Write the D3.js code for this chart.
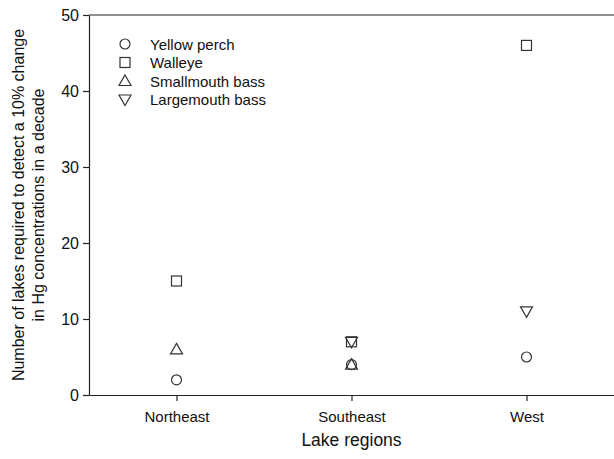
<!DOCTYPE html>
<html>
<head>
<meta charset="utf-8">
<script src="https://cdn.jsdelivr.net/npm/d3@7"></script>
<style>
  body { margin: 0; background: #fff; }
  text { font-family: "Liberation Sans", Arial, sans-serif; fill: #111; }
</style>
</head>
<body>
<svg id="chart" width="614" height="459"></svg>
<script>
const regions = ["Northeast", "Southeast", "West"];
const species = ["Yellow perch", "Walleye", "Smallmouth bass", "Largemouth bass"];
const yellowPerch = [2, 4, 5];
const walleye = [15, 7, 46];
const smallmouth = [6, 4, null];
const largemouth = [null, 7, 11];
const yTicks = [0, 10, 20, 30, 40, 50];

const svg = d3.select("#chart");
const margin = { top: 15, right: 0, bottom: 64, left: 89 };
const width = 614 - margin.left - margin.right;
const height = 459 - margin.top - margin.bottom;
const g = svg.append("g").attr("transform", "translate(" + margin.left + "," + margin.top + ")");

const x = d3.scaleLinear().domain([0.5, 3.5]).range([0, width]);
const y = d3.scaleLinear().domain([0, 50]).range([height, 0]);

// frame top line
g.append("line").attr("x1", 0).attr("x2", width).attr("y1", 0).attr("y2", 0)
  .attr("stroke", "#222").attr("stroke-width", 1.2);

const xAxis = g.append("g").attr("transform", "translate(0," + height + ")")
  .call(d3.axisBottom(x).tickValues([1, 2, 3]).tickFormat((d, i) => regions[i]).tickSize(6).tickSizeOuter(0));
xAxis.selectAll("text").style("font-size", "15px").attr("dy", "1.2em");

const yAxis = g.append("g")
  .call(d3.axisLeft(y).tickValues(yTicks).tickSize(6).tickSizeOuter(0));
yAxis.selectAll("text").style("font-size", "16px").attr("x", -10);

svg.selectAll(".domain, .tick line").attr("stroke", "#222").attr("stroke-width", 1.2);

// markers
const size = 10;
const symbols = {
  "Yellow perch": (sel) => sel.append("circle").attr("r", size / 2),
  "Walleye": (sel) => sel.append("rect").attr("x", -size / 2).attr("y", -size / 2).attr("width", size).attr("height", size),
  "Smallmouth bass": (sel) => sel.append("path").attr("d", "M0,-6L6,4.5L-6,4.5Z"),
  "Largemouth bass": (sel) => sel.append("path").attr("d", "M0,6L6,-4.5L-6,-4.5Z")
};
const seriesValues = [yellowPerch, walleye, smallmouth, largemouth];

species.forEach((sp, si) => {
  seriesValues[si].forEach((v, ri) => {
    if (v == null) return;
    const m = g.append("g").attr("transform", "translate(" + x(ri + 1) + "," + y(v) + ")");
    symbols[sp](m).attr("fill", "none").attr("stroke", "#333").attr("stroke-width", 1.2);
  });
});

// legend
const legend = g.append("g").attr("transform", "translate(36,29)");
species.forEach((sp, i) => {
  const row = legend.append("g").attr("transform", "translate(0," + (i * 18.5) + ")");
  symbols[sp](row).attr("fill", "none").attr("stroke", "#333").attr("stroke-width", 1.2);
  row.append("text").attr("x", 25).attr("y", 5.5).style("font-size", "15px").text(sp);
});

// axis titles
svg.append("text").attr("x", margin.left + width / 2).attr("y", 446)
  .attr("text-anchor", "middle").style("font-size", "17.5px").text("Lake regions");

const yt = svg.append("text").attr("transform", "translate(24," + (margin.top + height / 2) + ") rotate(-90)")
  .attr("text-anchor", "middle").style("font-size", "16px");
yt.append("tspan").attr("x", 0).attr("dy", 0).text("Number of lakes required to detect a 10% change");
yt.append("tspan").attr("x", 0).attr("dy", "1.25em").text("in Hg concentrations in a decade");
</script>
</body>
</html>
